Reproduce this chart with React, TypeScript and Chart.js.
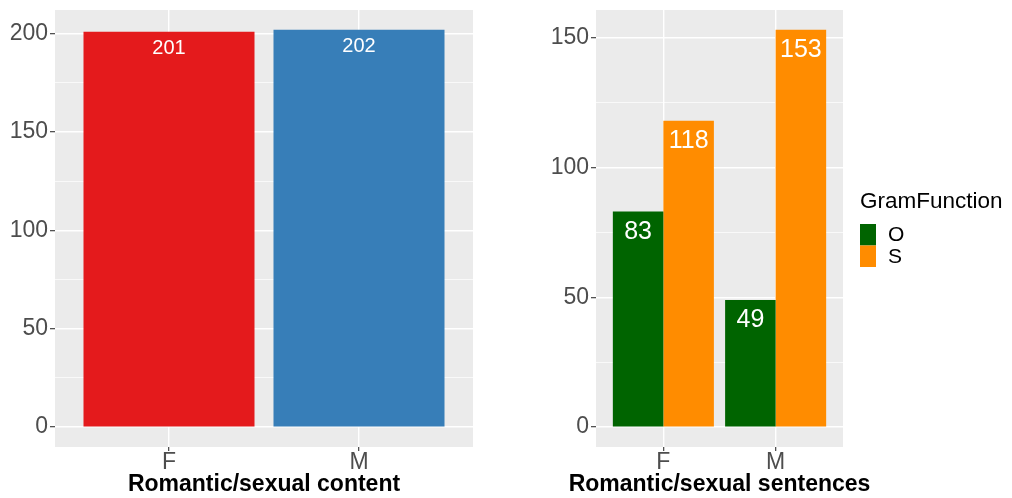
import React, { useEffect, useRef } from "react";
import { Chart, registerables } from "chart.js";

Chart.register(...registerables);

// ---------- data ----------
const contentCategories = ["F", "M"];
const contentValues = [201, 202];
const contentColors = ["#E41A1C", "#377EB8"];
const contentTicks = [0, 25, 50, 75, 100, 125, 150, 175, 200];
const contentTitle = "Romantic/sexual content";

const sentenceCategories = ["F", "M"];
const gramFunctions = ["O", "S"];
const sentenceO = [83, 49];
const sentenceS = [118, 153];
const gramColors = ["#006400", "#FF8C00"];
const sentenceTicks = [0, 25, 50, 75, 100, 125, 150];
const sentenceTitle = "Romantic/sexual sentences";
const legendTitle = "GramFunction";

// ---------- style ----------
const FONT = "'Liberation Sans', Arial, Helvetica, sans-serif";
const PANEL_BG = "#EBEBEB";
const TICK_TEXT = "#4D4D4D";
const TICK_MARK = "#333333";

const bgPlugin = {
  id: "panelBg",
  beforeDraw(chart: any) {
    const { ctx, chartArea } = chart;
    ctx.save();
    ctx.fillStyle = PANEL_BG;
    ctx.fillRect(chartArea.left, chartArea.top, chartArea.right - chartArea.left, chartArea.bottom - chartArea.top);
    ctx.restore();
  },
};

const axisTitlePlugin = (text: string) => ({
  id: "axisTitle",
  afterDraw(chart: any) {
    const { ctx, chartArea } = chart;
    ctx.save();
    ctx.fillStyle = "#000000";
    ctx.font = `bold 23px ${FONT}`;
    ctx.textAlign = "center";
    ctx.textBaseline = "middle";
    ctx.fillText(text, (chartArea.left + chartArea.right) / 2, 484.5);
    ctx.restore();
  },
});

const barLabels = (size: number, offset: number) => ({
  id: "barLabels",
  afterDatasetsDraw(chart: any) {
    const ctx = chart.ctx;
    ctx.save();
    ctx.fillStyle = "#FFFFFF";
    ctx.font = `${size}px ${FONT}`;
    ctx.textAlign = "center";
    ctx.textBaseline = "middle";
    chart.data.datasets.forEach((ds: any, di: number) => {
      const meta = chart.getDatasetMeta(di);
      meta.data.forEach((el: any, i: number) => {
        const v = ds.data[i].y;
        ctx.fillText(String(v), el.x, el.y + offset);
      });
    });
    ctx.restore();
  },
});

const legendPlugin = (x: number) => ({
  id: "ggLegend",
  afterDraw(chart: any) {
    const ctx = chart.ctx;
    ctx.save();
    ctx.fillStyle = "#000";
    ctx.textAlign = "left";
    ctx.textBaseline = "middle";
    ctx.font = `22.5px ${FONT}`;
    ctx.fillText(legendTitle, x, 202);
    gramFunctions.forEach((g, i) => {
      const top = 224 + i * 21.5;
      ctx.fillStyle = gramColors[i];
      ctx.fillRect(x, top, 16, 21.5);
      ctx.fillStyle = "#000";
      ctx.font = `21px ${FONT}`;
      ctx.fillText(g, x + 28, top + 11.5);
    });
    ctx.restore();
  },
});

function yScale(ticks: number[], maxVal: number, width: number) {
  return {
    type: "linear",
    min: -0.05 * maxVal,
    max: 1.05 * maxVal,
    afterBuildTicks: (s: any) => {
      s.ticks = ticks.map((v) => ({ value: v }));
    },
    afterFit: (s: any) => {
      s.width = width;
      s.paddingTop = 0;
      s.paddingBottom = 0;
    },
    ticks: {
      callback: (v: number) => (v % 50 === 0 ? String(v) : ""),
      color: TICK_TEXT,
      font: { family: FONT, size: 23 },
      padding: 2,
      autoSkip: false,
    },
    grid: {
      color: "#FFFFFF",
      lineWidth: (c: any) => (c.tick && c.tick.value % 50 === 0 ? 1.4 : 0.7),
      tickLength: 5,
      tickWidth: 1.1,
      tickColor: (c: any) => (c.tick && c.tick.value % 50 === 0 ? TICK_MARK : "rgba(0,0,0,0)"),
    },
    border: { display: false },
  };
}

function xScale(categories: string[]) {
  return {
    type: "linear",
    offset: false,
    min: 0.4,
    max: categories.length + 0.6,
    afterBuildTicks: (s: any) => {
      s.ticks = categories.map((_, i) => ({ value: i + 1 }));
    },
    afterFit: (s: any) => {
      s.height = 51;
      s.paddingLeft = 0;
      s.paddingRight = 0;
    },
    ticks: {
      callback: (_v: number, i: number) => categories[i],
      color: TICK_TEXT,
      font: { family: FONT, size: 23, lineHeight: 1 },
      padding: 0.5,
      autoSkip: false,
      maxRotation: 0,
    },
    grid: {
      offset: false,
      color: "#FFFFFF",
      lineWidth: 1.4,
      tickLength: 4,
      tickWidth: 1.1,
      tickColor: TICK_MARK,
    },
    border: { display: false },
    title: { display: false },
  };
}

export default function App() {
  const leftRef = useRef<HTMLCanvasElement | null>(null);
  const rightRef = useRef<HTMLCanvasElement | null>(null);

  useEffect(() => {
    const left = new Chart(leftRef.current as HTMLCanvasElement, {
      type: "bar",
      data: {
        datasets: [
          {
            data: contentValues.map((v, i) => ({ x: i + 1, y: v })),
            backgroundColor: contentColors,
            barPercentage: 0.9,
            categoryPercentage: 1.0,
            borderWidth: 0,
          },
        ],
      },
      options: {
        animation: false,
        responsive: false,
        devicePixelRatio: 1,
        layout: { padding: { left: 0, right: 27, top: 10, bottom: 0 } },
        plugins: { legend: { display: false }, tooltip: { enabled: false } },
        scales: {
          x: xScale(contentCategories),
          y: yScale(contentTicks, Math.max(...contentValues), 55),
        },
      } as any,
      plugins: [bgPlugin, barLabels(20, 17), axisTitlePlugin(contentTitle)],
    } as any);

    const sMax = Math.max(...sentenceO, ...sentenceS);
    const right = new Chart(rightRef.current as HTMLCanvasElement, {
      type: "bar",
      data: {
        datasets: [sentenceO, sentenceS].map((vals, di) => ({
          label: gramFunctions[di],
          data: vals.map((v, i) => ({ x: i + 1, y: v })),
          backgroundColor: gramColors[di],
          barPercentage: 1.0,
          categoryPercentage: 0.9,
          borderWidth: 0,
        })),
      },
      options: {
        animation: false,
        responsive: false,
        devicePixelRatio: 1,
        layout: { padding: { left: 0, right: 169, top: 10, bottom: 0 } },
        plugins: { legend: { display: false }, tooltip: { enabled: false } },
        scales: {
          x: xScale(sentenceCategories),
          y: yScale(sentenceTicks, sMax, 96),
        },
      } as any,
      plugins: [bgPlugin, barLabels(25, 20), legendPlugin(360), axisTitlePlugin(sentenceTitle)],
    } as any);

    return () => {
      left.destroy();
      right.destroy();
    };
  }, []);

  return (
    <div style={{ position: "fixed", left: 0, top: 0, width: 1012, height: 498, background: "#FFFFFF" }}>
      <canvas ref={leftRef} width={500} height={498} style={{ position: "absolute", left: 0, top: 0, width: 500, height: 498 }} />
      <canvas ref={rightRef} width={512} height={498} style={{ position: "absolute", left: 500, top: 0, width: 512, height: 498 }} />
    </div>
  );
}
